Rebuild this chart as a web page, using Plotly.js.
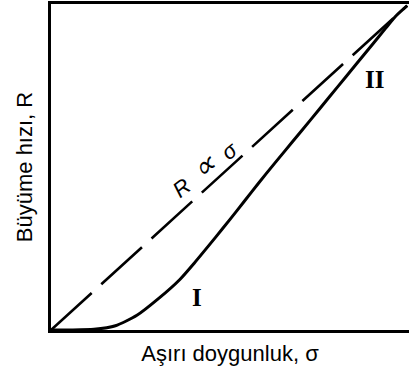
<!DOCTYPE html>
<html>
<head>
<meta charset="utf-8">
<script src="https://cdn.plot.ly/plotly-3.0.1.min.js"></script>
<style>
  html, body { margin: 0; padding: 0; background: #fff; }
  #chart { width: 409px; height: 375px; }
</style>
</head>
<body>
<div id="chart"></div>
<script>
// Linear law R ∝ σ (dashed reference line)
const sigmaLinear = [0, 0.995];
const rateLinear = [0, 0.995];

// Growth rate curve: parabolic at low σ (I), linear at high σ (II)
const sigmaCurve = [0, 0.06, 0.12, 0.18, 0.24, 0.30, 0.36, 0.40, 0.44, 0.48, 0.52, 0.56, 0.60, 0.65, 0.70, 0.75, 0.80, 0.85, 0.90, 0.935, 0.964, 0.995];
const rateCurve  = [0, 0.000, 0.002, 0.013, 0.045, 0.096, 0.155, 0.205, 0.258, 0.312, 0.367, 0.423, 0.478, 0.545, 0.611, 0.678, 0.745, 0.812, 0.879, 0.926, 0.964, 0.995];

// Region labels
const regionText = ['I', 'II'];
const regionX = [0.408, 0.905];
const regionY = [0.101, 0.768];

// Proportionality label, drawn with an enlarged ∝ sign
const lawParts = ['R', '∝', 'σ'];
const lawX = 0.425;
const lawY = 0.497;

const traces = [
  {
    x: sigmaLinear, y: rateLinear, mode: 'lines',
    line: { color: '#000', width: 2.6, dash: '55px,13px' },
    hoverinfo: 'skip', cliponaxis: false
  },
  {
    x: sigmaCurve, y: rateCurve, mode: 'lines',
    line: { color: '#000', width: 3, shape: 'spline', smoothing: 0.6 },
    hoverinfo: 'skip', cliponaxis: false
  }
];

const annotations = regionText.map((t, i) => ({
  x: regionX[i], y: regionY[i], xref: 'x', yref: 'y',
  text: '<b>' + t + '</b>', showarrow: false,
  font: { family: 'Liberation Serif, DejaVu Serif, serif', size: 25, color: '#000' }
}));
const gap = '\u00a0\u00a0';
annotations.push({
  x: lawX, y: lawY, xref: 'x', yref: 'y',
  text: '<i>' + lawParts[0] + gap + '<span style="font-size:30px">' + lawParts[1] + '</span>' + gap + lawParts[2] + '</i>',
  showarrow: false, textangle: -38,
  font: { family: 'Liberation Sans, Arial, sans-serif', size: 22, color: '#000' }
});

const titleFont = { family: 'Liberation Sans, Arial, sans-serif', size: 22, color: '#000' };

const layout = {
  width: 409, height: 375,
  margin: { l: 51, r: 0, t: 4, b: 45 },
  paper_bgcolor: '#fff', plot_bgcolor: '#fff',
  showlegend: false,
  xaxis: {
    range: [0, 1], showgrid: false, zeroline: false, showticklabels: false, ticks: '',
    showline: true, linecolor: '#000', linewidth: 3, mirror: true,
    title: { text: 'Aşırı doygunluk, σ', standoff: 14, font: titleFont }
  },
  yaxis: {
    range: [0, 1], showgrid: false, zeroline: false, showticklabels: false, ticks: '',
    showline: true, linecolor: '#000', linewidth: 3,
    title: { text: 'Büyüme hızı, R', standoff: 10, font: titleFont }
  },
  annotations: annotations
};

Plotly.newPlot('chart', traces, layout, { staticPlot: true, displayModeBar: false });
</script>
</body>
</html>
